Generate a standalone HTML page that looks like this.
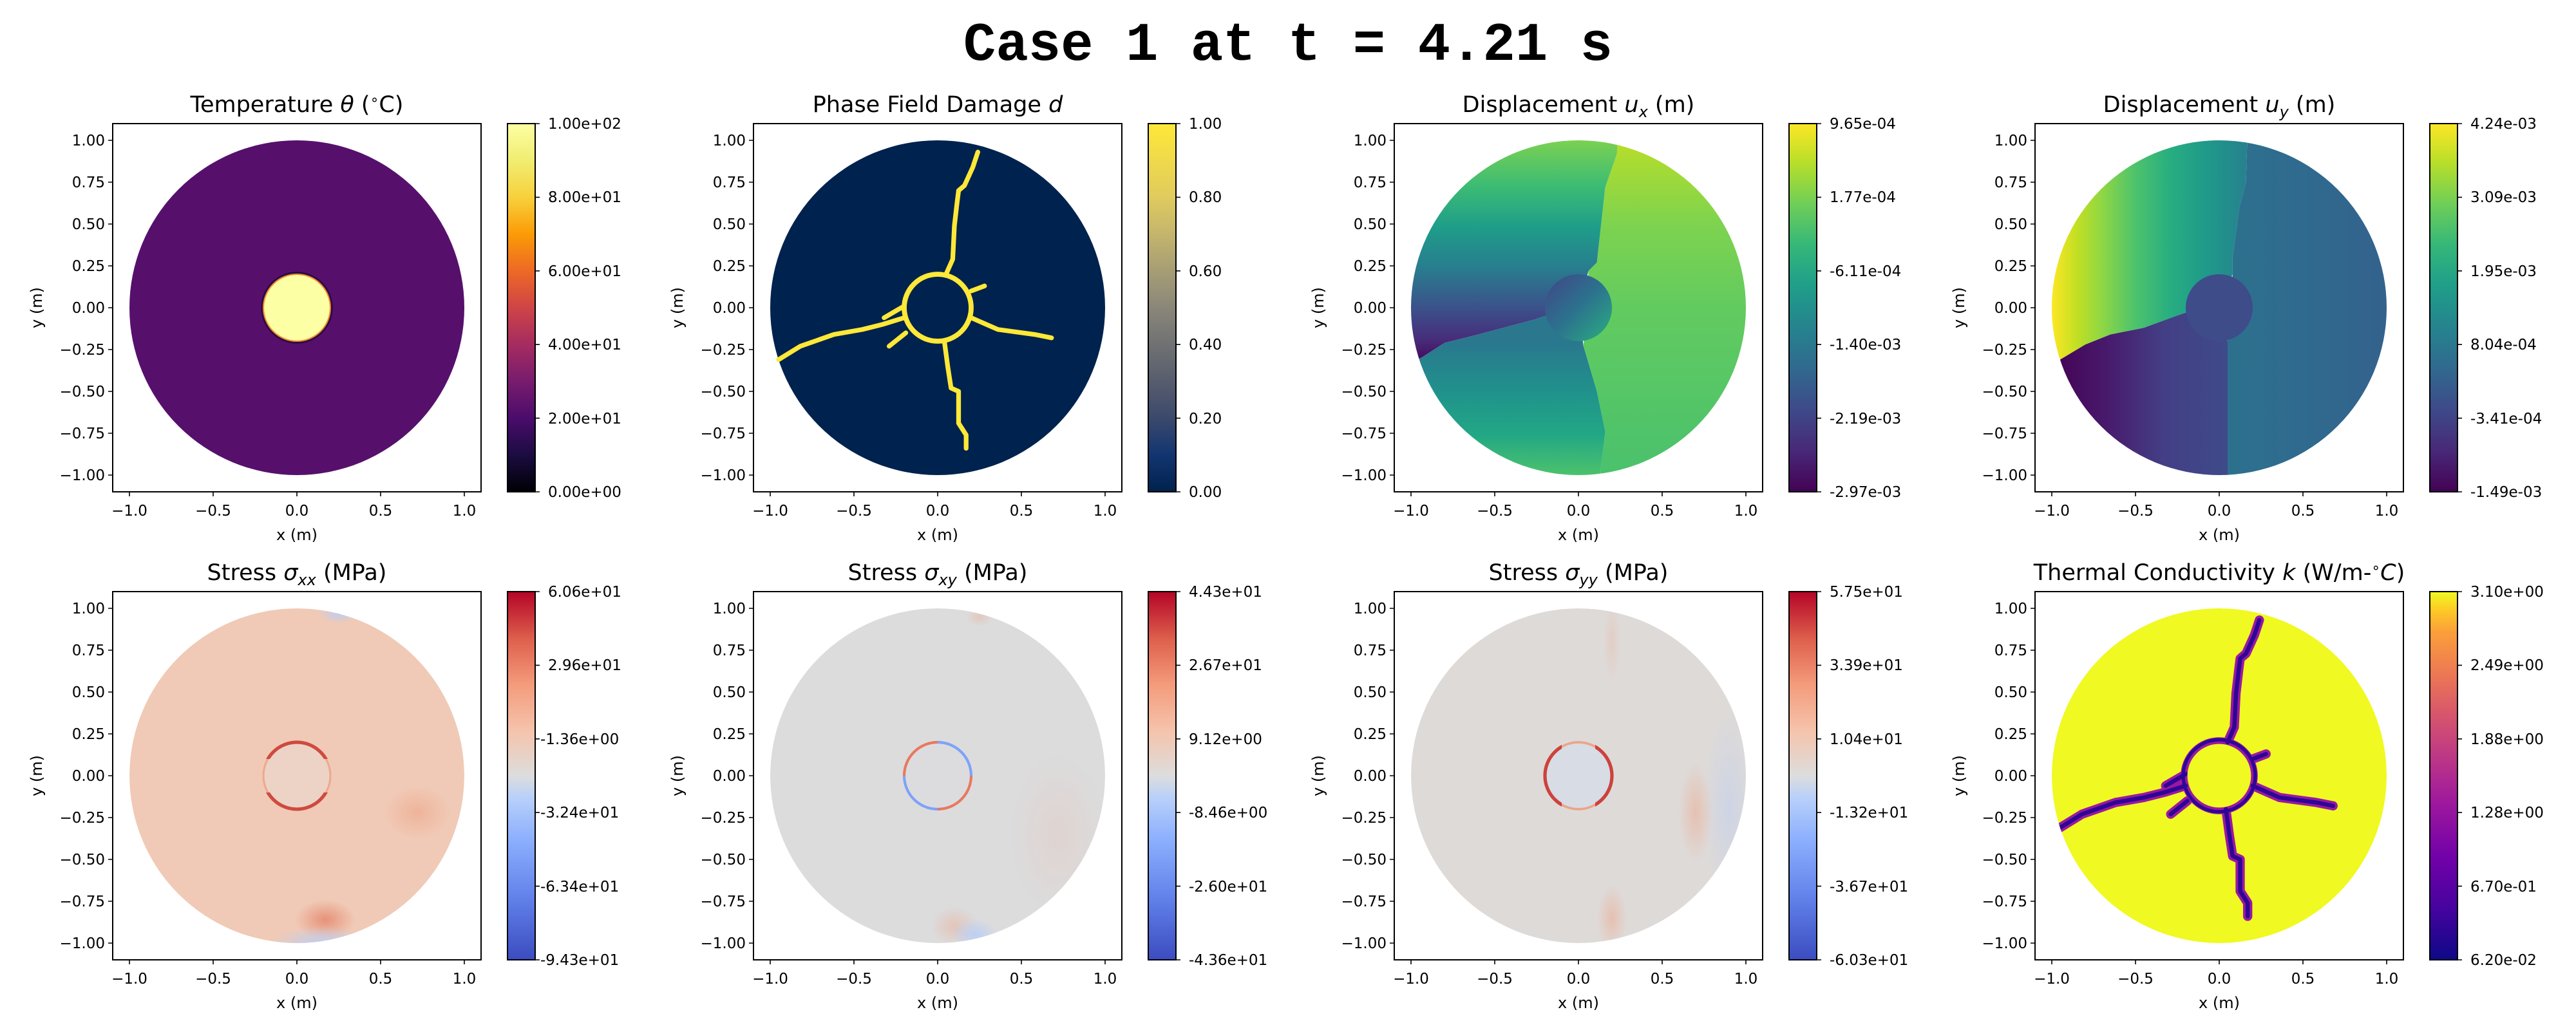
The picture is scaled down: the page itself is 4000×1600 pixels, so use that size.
<!DOCTYPE html>
<html><head><meta charset="utf-8"><style>
html,body{margin:0;padding:0;background:#fff;}
svg{display:block;}
text{font-family:"DejaVu Sans","Liberation Sans",sans-serif;fill:#000;}
.tk{font-size:23px;}
.lb{font-size:24px;}
.tt{font-size:35px;}
.cb{font-size:23px;}
</style></head><body>
<svg width="4000" height="1600" viewBox="0 0 4000 1600" xmlns="http://www.w3.org/2000/svg">
<defs>
<clipPath id="disk"><circle cx="0" cy="0" r="1"/></clipPath>
<clipPath id="ctop"><rect x="-0.4" y="0.1" width="0.8" height="0.3"/></clipPath>
<clipPath id="cbot"><rect x="-0.4" y="-0.4" width="0.8" height="0.3"/></clipPath>
<clipPath id="cleft"><rect x="-0.4" y="-0.4" width="0.3" height="0.8"/></clipPath>
<clipPath id="cright"><rect x="0.1" y="-0.4" width="0.3" height="0.8"/></clipPath>
<clipPath id="qtl"><rect x="-0.4" y="0" width="0.4" height="0.4"/></clipPath>
<clipPath id="qtr"><rect x="0" y="0" width="0.4" height="0.4"/></clipPath>
<clipPath id="qbl"><rect x="-0.4" y="-0.4" width="0.4" height="0.4"/></clipPath>
<clipPath id="qbr"><rect x="0" y="-0.4" width="0.4" height="0.4"/></clipPath>
<linearGradient id="inferno" x1="0" y1="1" x2="0" y2="0">
<stop offset="0" stop-color="#000004"/><stop offset="0.1" stop-color="#1b0c41"/><stop offset="0.2" stop-color="#4a0c6b"/><stop offset="0.3" stop-color="#781c6d"/><stop offset="0.4" stop-color="#a52c60"/><stop offset="0.5" stop-color="#cf4446"/><stop offset="0.6" stop-color="#ed6925"/><stop offset="0.7" stop-color="#fb9b06"/><stop offset="0.8" stop-color="#f7d13d"/><stop offset="0.9" stop-color="#f1ed71"/><stop offset="1" stop-color="#fcffa4"/></linearGradient>
<linearGradient id="cividis" x1="0" y1="1" x2="0" y2="0">
<stop offset="0" stop-color="#00224e"/><stop offset="0.1" stop-color="#123570"/><stop offset="0.2" stop-color="#3b496c"/><stop offset="0.3" stop-color="#575d6d"/><stop offset="0.4" stop-color="#707173"/><stop offset="0.5" stop-color="#8a8779"/><stop offset="0.6" stop-color="#a69d75"/><stop offset="0.7" stop-color="#c4b56c"/><stop offset="0.8" stop-color="#e0cb5e"/><stop offset="1" stop-color="#fee838"/></linearGradient>
<linearGradient id="viridis" x1="0" y1="1" x2="0" y2="0">
<stop offset="0" stop-color="#440154"/><stop offset="0.11" stop-color="#482878"/><stop offset="0.22" stop-color="#3e4989"/><stop offset="0.33" stop-color="#31688e"/><stop offset="0.44" stop-color="#26828e"/><stop offset="0.56" stop-color="#1f9e89"/><stop offset="0.67" stop-color="#35b779"/><stop offset="0.78" stop-color="#6ece58"/><stop offset="0.89" stop-color="#b5de2b"/><stop offset="1" stop-color="#fde725"/></linearGradient>
<linearGradient id="coolwarm" x1="0" y1="1" x2="0" y2="0">
<stop offset="0" stop-color="#3b4cc0"/><stop offset="0.17" stop-color="#6282ea"/><stop offset="0.33" stop-color="#8db0fe"/><stop offset="0.44" stop-color="#b8d0f9"/><stop offset="0.5" stop-color="#dddddd"/><stop offset="0.62" stop-color="#f5c4ac"/><stop offset="0.75" stop-color="#f49a7b"/><stop offset="0.87" stop-color="#de604d"/><stop offset="1" stop-color="#b40426"/></linearGradient>
<linearGradient id="plasma" x1="0" y1="1" x2="0" y2="0">
<stop offset="0" stop-color="#0d0887"/><stop offset="0.14" stop-color="#46039f"/><stop offset="0.28" stop-color="#7201a8"/><stop offset="0.42" stop-color="#9c179e"/><stop offset="0.55" stop-color="#bd3786"/><stop offset="0.67" stop-color="#d8576b"/><stop offset="0.78" stop-color="#ed7953"/><stop offset="0.89" stop-color="#fb9f3a"/><stop offset="0.95" stop-color="#fdca26"/><stop offset="1" stop-color="#f0f921"/></linearGradient>
<linearGradient id="uxR" gradientUnits="userSpaceOnUse" x1="0" y1="1" x2="0" y2="-1">
<stop offset="0" stop-color="#b8de29"/><stop offset="0.25" stop-color="#7ed34f"/><stop offset="0.5" stop-color="#62cb5f"/><stop offset="1" stop-color="#4ac16d"/></linearGradient>
<linearGradient id="uxLU" gradientUnits="userSpaceOnUse" x1="0" y1="1" x2="0" y2="-0.35">
<stop offset="0" stop-color="#7ad151"/><stop offset="0.2" stop-color="#3dbc74"/><stop offset="0.38" stop-color="#1f9e89"/><stop offset="0.55" stop-color="#27808e"/><stop offset="0.74" stop-color="#3b528b"/><stop offset="0.88" stop-color="#472d7b"/><stop offset="1" stop-color="#440154"/></linearGradient>
<linearGradient id="uxLL" gradientUnits="userSpaceOnUse" x1="0" y1="-0.2" x2="0" y2="-1">
<stop offset="0" stop-color="#2a778e"/><stop offset="0.38" stop-color="#20928c"/><stop offset="0.7" stop-color="#22a785"/><stop offset="1" stop-color="#4cc26c"/></linearGradient>
<linearGradient id="uxC" gradientUnits="userSpaceOnUse" x1="-0.2" y1="0.2" x2="0.2" y2="-0.2">
<stop offset="0" stop-color="#414487"/><stop offset="0.5" stop-color="#2c728e"/><stop offset="1" stop-color="#2ab07f"/></linearGradient>
<linearGradient id="uyUL" gradientUnits="userSpaceOnUse" x1="-1" y1="0" x2="0.15" y2="0">
<stop offset="0" stop-color="#fde725"/><stop offset="0.13" stop-color="#c2df23"/><stop offset="0.26" stop-color="#8fd744"/><stop offset="0.43" stop-color="#4ec36b"/><stop offset="0.61" stop-color="#28ae80"/><stop offset="0.8" stop-color="#1f9a8a"/><stop offset="1" stop-color="#26828e"/></linearGradient>
<linearGradient id="uyLL" gradientUnits="userSpaceOnUse" x1="-1" y1="0" x2="0.1" y2="0">
<stop offset="0" stop-color="#440154"/><stop offset="0.3" stop-color="#481a6c"/><stop offset="0.6" stop-color="#433e85"/><stop offset="1" stop-color="#3e4c8a"/></linearGradient>
<linearGradient id="uyR" gradientUnits="userSpaceOnUse" x1="0.1" y1="0" x2="1" y2="0">
<stop offset="0" stop-color="#2d708e"/><stop offset="1" stop-color="#33628d"/></linearGradient>
<radialGradient id="spotR" cx="0.5" cy="0.5" r="0.5"><stop offset="0" stop-color="#e27a60" stop-opacity="0.7"/><stop offset="1" stop-color="#e27a60" stop-opacity="0"/></radialGradient>
<radialGradient id="spotR2" cx="0.5" cy="0.5" r="0.5"><stop offset="0" stop-color="#eea487" stop-opacity="0.6"/><stop offset="1" stop-color="#eea487" stop-opacity="0"/></radialGradient>
<radialGradient id="spotB" cx="0.5" cy="0.5" r="0.5"><stop offset="0" stop-color="#b9cdf5" stop-opacity="0.9"/><stop offset="1" stop-color="#b9cdf5" stop-opacity="0"/></radialGradient>
<path id="crk" d="M0.05,0.2 L0.09,0.29 L0.10,0.49 L0.115,0.62 L0.125,0.70 L0.16,0.73 L0.21,0.84 L0.24,0.93 M0.04,-0.2 L0.06,-0.35 L0.08,-0.48 L0.125,-0.50 L0.125,-0.69 L0.17,-0.76 L0.17,-0.84 M-0.2,-0.06 L-0.33,-0.10 L-0.45,-0.13 L-0.62,-0.16 L-0.82,-0.23 L-0.95,-0.31 M-0.2,0.01 L-0.32,-0.06 M-0.19,-0.15 L-0.29,-0.23 M0.2,-0.06 L0.36,-0.13 L0.58,-0.16 L0.68,-0.18 M0.2,0.10 L0.28,0.13" fill="none" stroke-linejoin="round" stroke-linecap="round"/>
<path id="tks" d="M0,26h-7M0,91h-7M0,156h-7M0,221h-7M0,286h-7M0,351h-7M0,416h-7M0,481h-7M0,546h-7M26,572v7M156,572v7M286,572v7M416,572v7M546,572v7M656,0h7M656,114.4h7M656,228.8h7M656,343.2h7M656,457.6h7M656,572h7" stroke="#000" stroke-width="1.6" fill="none"/>
</defs>

<text x="2000" y="93" text-anchor="middle" style="font-family:'Liberation Mono','DejaVu Sans Mono',monospace;font-weight:bold;font-size:84px;">Case 1 at t = 4.21 s</text>

<g transform="translate(175,192)">
<g transform="translate(286,286) scale(260,-260)">
<circle r="1" fill="#56106c"/>
<circle r="0.215" fill="#2a0b4a"/>
<circle r="0.2" fill="#fcffa4" stroke="#f38a2a" stroke-width="0.008"/>
</g>
<rect x="0" y="0" width="572" height="572" fill="none" stroke="#000" stroke-width="2"/>
<rect x="613" y="0" width="43" height="572" fill="url(#inferno)" stroke="#000" stroke-width="2"/>
<use href="#tks"/>
<g class="tk" text-anchor="end"><text x="-12" y="34">1.00</text><text x="-12" y="99">0.75</text><text x="-12" y="164">0.50</text><text x="-12" y="229">0.25</text><text x="-12" y="294">0.00</text><text x="-12" y="359">−0.25</text><text x="-12" y="424">−0.50</text><text x="-12" y="489">−0.75</text><text x="-12" y="554">−1.00</text></g>
<g class="tk" text-anchor="middle"><text x="26" y="609">−1.0</text><text x="156" y="609">−0.5</text><text x="286" y="609">0.0</text><text x="416" y="609">0.5</text><text x="546" y="609">1.0</text></g>
<text class="lb" x="286" y="647" text-anchor="middle">x (m)</text>
<text class="lb" transform="translate(-110,286) rotate(-90)" text-anchor="middle">y (m)</text>
<text class="tt" x="286" y="-18" text-anchor="middle">Temperature <tspan font-style="italic">θ</tspan> (<tspan baseline-shift="super" font-size="22">∘</tspan>C)</text>
<g class="cb"><text x="676" y="8">1.00e+02</text><text x="676" y="122">8.00e+01</text><text x="676" y="237">6.00e+01</text><text x="676" y="351">4.00e+01</text><text x="676" y="466">2.00e+01</text><text x="676" y="580">0.00e+00</text></g>
</g>

<g transform="translate(1170,192)">
<g transform="translate(286,286) scale(260,-260)">
<circle r="1" fill="#00224e"/>
<use href="#crk" stroke="#fee838" stroke-width="0.028"/>
<circle r="0.2" fill="none" stroke="#fee838" stroke-width="0.03"/>
</g>
<rect x="0" y="0" width="572" height="572" fill="none" stroke="#000" stroke-width="2"/>
<rect x="613" y="0" width="43" height="572" fill="url(#cividis)" stroke="#000" stroke-width="2"/>
<use href="#tks"/>
<g class="tk" text-anchor="end"><text x="-12" y="34">1.00</text><text x="-12" y="99">0.75</text><text x="-12" y="164">0.50</text><text x="-12" y="229">0.25</text><text x="-12" y="294">0.00</text><text x="-12" y="359">−0.25</text><text x="-12" y="424">−0.50</text><text x="-12" y="489">−0.75</text><text x="-12" y="554">−1.00</text></g>
<g class="tk" text-anchor="middle"><text x="26" y="609">−1.0</text><text x="156" y="609">−0.5</text><text x="286" y="609">0.0</text><text x="416" y="609">0.5</text><text x="546" y="609">1.0</text></g>
<text class="lb" x="286" y="647" text-anchor="middle">x (m)</text>
<text class="lb" transform="translate(-110,286) rotate(-90)" text-anchor="middle">y (m)</text>
<text class="tt" x="286" y="-18" text-anchor="middle">Phase Field Damage <tspan font-style="italic">d</tspan></text>
<g class="cb"><text x="676" y="8">1.00</text><text x="676" y="122">0.80</text><text x="676" y="237">0.60</text><text x="676" y="351">0.40</text><text x="676" y="466">0.20</text><text x="676" y="580">0.00</text></g>
</g>

<g transform="translate(2165,192)">
<g transform="translate(286,286) scale(260,-260)">
<g clip-path="url(#disk)">
<polygon fill="url(#uxR)" points="0.23,1.1 1.1,1.1 1.1,-1.1 0.13,-1.1 0.13,-1.0 0.16,-0.74 0.11,-0.50 0.03,-0.23 0.06,0.22 0.11,0.27 0.16,0.72 0.23,0.92"/>
<polygon fill="url(#uxLU)" points="-1.1,1.1 0.235,1.1 0.23,0.92 0.16,0.72 0.11,0.27 0.06,0.22 0,0 -0.2,-0.05 -0.26,-0.07 -0.45,-0.12 -0.60,-0.16 -0.8,-0.21 -0.94,-0.30 -1.1,-0.36"/>
<polygon fill="url(#uxLL)" points="-1.1,-0.36 -0.94,-0.30 -0.8,-0.21 -0.60,-0.16 -0.45,-0.12 -0.26,-0.07 -0.2,-0.05 0,0 0.03,-0.23 0.11,-0.50 0.16,-0.74 0.13,-1.0 0.13,-1.1 -1.1,-1.1"/>
<circle r="0.2" fill="url(#uxC)"/>
</g>
</g>
<rect x="0" y="0" width="572" height="572" fill="none" stroke="#000" stroke-width="2"/>
<rect x="613" y="0" width="43" height="572" fill="url(#viridis)" stroke="#000" stroke-width="2"/>
<use href="#tks"/>
<g class="tk" text-anchor="end"><text x="-12" y="34">1.00</text><text x="-12" y="99">0.75</text><text x="-12" y="164">0.50</text><text x="-12" y="229">0.25</text><text x="-12" y="294">0.00</text><text x="-12" y="359">−0.25</text><text x="-12" y="424">−0.50</text><text x="-12" y="489">−0.75</text><text x="-12" y="554">−1.00</text></g>
<g class="tk" text-anchor="middle"><text x="26" y="609">−1.0</text><text x="156" y="609">−0.5</text><text x="286" y="609">0.0</text><text x="416" y="609">0.5</text><text x="546" y="609">1.0</text></g>
<text class="lb" x="286" y="647" text-anchor="middle">x (m)</text>
<text class="lb" transform="translate(-110,286) rotate(-90)" text-anchor="middle">y (m)</text>
<text class="tt" x="286" y="-18" text-anchor="middle">Displacement <tspan font-style="italic">u</tspan><tspan font-style="italic" font-size="24" dy="8">x</tspan><tspan dy="-8"> (m)</tspan></text>
<g class="cb"><text x="676" y="8">9.65e-04</text><text x="676" y="122">1.77e-04</text><text x="676" y="237">-6.11e-04</text><text x="676" y="351">-1.40e-03</text><text x="676" y="466">-2.19e-03</text><text x="676" y="580">-2.97e-03</text></g>
</g>

<g transform="translate(3160,192)">
<g transform="translate(286,286) scale(260,-260)">
<g clip-path="url(#disk)">
<polygon fill="url(#uyR)" points="0.17,1.1 1.1,1.1 1.1,-1.1 0.05,-1.1 0.05,-0.2 0.08,0.2 0.08,0.3 0.12,0.6 0.16,0.75"/>
<polygon fill="url(#uyUL)" points="-1.1,1.1 0.17,1.1 0.16,0.75 0.12,0.6 0.08,0.3 0.08,0.2 0,0 -0.2,-0.03 -0.26,-0.05 -0.45,-0.12 -0.65,-0.16 -0.8,-0.22 -0.95,-0.31 -1.1,-0.37"/>
<polygon fill="url(#uyLL)" points="-1.1,-0.37 -0.95,-0.31 -0.8,-0.22 -0.65,-0.16 -0.45,-0.12 -0.26,-0.05 -0.2,-0.03 0,0 0.05,-0.2 0.05,-1.1 -1.1,-1.1"/>
<circle r="0.2" fill="#3e4c8a"/>
</g>
</g>
<rect x="0" y="0" width="572" height="572" fill="none" stroke="#000" stroke-width="2"/>
<rect x="613" y="0" width="43" height="572" fill="url(#viridis)" stroke="#000" stroke-width="2"/>
<use href="#tks"/>
<g class="tk" text-anchor="end"><text x="-12" y="34">1.00</text><text x="-12" y="99">0.75</text><text x="-12" y="164">0.50</text><text x="-12" y="229">0.25</text><text x="-12" y="294">0.00</text><text x="-12" y="359">−0.25</text><text x="-12" y="424">−0.50</text><text x="-12" y="489">−0.75</text><text x="-12" y="554">−1.00</text></g>
<g class="tk" text-anchor="middle"><text x="26" y="609">−1.0</text><text x="156" y="609">−0.5</text><text x="286" y="609">0.0</text><text x="416" y="609">0.5</text><text x="546" y="609">1.0</text></g>
<text class="lb" x="286" y="647" text-anchor="middle">x (m)</text>
<text class="lb" transform="translate(-110,286) rotate(-90)" text-anchor="middle">y (m)</text>
<text class="tt" x="286" y="-18" text-anchor="middle">Displacement <tspan font-style="italic">u</tspan><tspan font-style="italic" font-size="24" dy="8">y</tspan><tspan dy="-8"> (m)</tspan></text>
<g class="cb"><text x="676" y="8">4.24e-03</text><text x="676" y="122">3.09e-03</text><text x="676" y="237">1.95e-03</text><text x="676" y="351">8.04e-04</text><text x="676" y="466">-3.41e-04</text><text x="676" y="580">-1.49e-03</text></g>
</g>

<g transform="translate(175,919)">
<g transform="translate(286,286) scale(260,-260)">
<g clip-path="url(#disk)">
<circle r="1" fill="#f0cab6"/>
<ellipse cx="0.72" cy="-0.22" rx="0.2" ry="0.16" fill="url(#spotR2)"/>
<ellipse cx="0.17" cy="-0.86" rx="0.18" ry="0.12" fill="url(#spotR)"/>
<ellipse cx="0.15" cy="-1.0" rx="0.3" ry="0.1" fill="url(#spotB)"/>
<ellipse cx="0.25" cy="0.97" rx="0.12" ry="0.06" fill="url(#spotB)"/>
<circle r="0.2" fill="#ecd3c6" stroke="#eea98e" stroke-width="0.012"/>
<circle r="0.2" fill="none" stroke="#cf4a3f" stroke-width="0.02" clip-path="url(#ctop)"/>
<circle r="0.2" fill="none" stroke="#cf4a3f" stroke-width="0.02" clip-path="url(#cbot)"/>
</g>
</g>
<rect x="0" y="0" width="572" height="572" fill="none" stroke="#000" stroke-width="2"/>
<rect x="613" y="0" width="43" height="572" fill="url(#coolwarm)" stroke="#000" stroke-width="2"/>
<use href="#tks"/>
<g class="tk" text-anchor="end"><text x="-12" y="34">1.00</text><text x="-12" y="99">0.75</text><text x="-12" y="164">0.50</text><text x="-12" y="229">0.25</text><text x="-12" y="294">0.00</text><text x="-12" y="359">−0.25</text><text x="-12" y="424">−0.50</text><text x="-12" y="489">−0.75</text><text x="-12" y="554">−1.00</text></g>
<g class="tk" text-anchor="middle"><text x="26" y="609">−1.0</text><text x="156" y="609">−0.5</text><text x="286" y="609">0.0</text><text x="416" y="609">0.5</text><text x="546" y="609">1.0</text></g>
<text class="lb" x="286" y="647" text-anchor="middle">x (m)</text>
<text class="lb" transform="translate(-110,286) rotate(-90)" text-anchor="middle">y (m)</text>
<text class="tt" x="286" y="-18" text-anchor="middle">Stress <tspan font-style="italic">σ</tspan><tspan font-style="italic" font-size="24" dy="8">xx</tspan><tspan dy="-8"> (MPa)</tspan></text>
<g class="cb"><text x="676" y="8">6.06e+01</text><text x="676" y="122">2.96e+01</text><text x="664" y="237">-1.36e+00</text><text x="664" y="351">-3.24e+01</text><text x="664" y="466">-6.34e+01</text><text x="664" y="580">-9.43e+01</text></g>
</g>

<g transform="translate(1170,919)">
<g transform="translate(286,286) scale(260,-260)">
<g clip-path="url(#disk)">
<circle r="1" fill="#dcdcdd"/>
<ellipse cx="0.72" cy="-0.35" rx="0.3" ry="0.5" fill="url(#spotR2)" opacity="0.25"/>
<ellipse cx="0.1" cy="-0.9" rx="0.14" ry="0.12" fill="url(#spotR2)" opacity="0.7"/>
<ellipse cx="0.22" cy="-0.95" rx="0.14" ry="0.1" fill="url(#spotB)"/>
<ellipse cx="0.25" cy="0.95" rx="0.08" ry="0.06" fill="url(#spotR2)" opacity="0.6"/>
<circle r="0.2" fill="#dcdcde"/>
<circle r="0.2" fill="none" stroke="#e8795f" stroke-width="0.016" clip-path="url(#qtl)"/>
<circle r="0.2" fill="none" stroke="#7ea2f8" stroke-width="0.016" clip-path="url(#qtr)"/>
<circle r="0.2" fill="none" stroke="#7ea2f8" stroke-width="0.016" clip-path="url(#qbl)"/>
<circle r="0.2" fill="none" stroke="#e8795f" stroke-width="0.016" clip-path="url(#qbr)"/>
</g>
</g>
<rect x="0" y="0" width="572" height="572" fill="none" stroke="#000" stroke-width="2"/>
<rect x="613" y="0" width="43" height="572" fill="url(#coolwarm)" stroke="#000" stroke-width="2"/>
<use href="#tks"/>
<g class="tk" text-anchor="end"><text x="-12" y="34">1.00</text><text x="-12" y="99">0.75</text><text x="-12" y="164">0.50</text><text x="-12" y="229">0.25</text><text x="-12" y="294">0.00</text><text x="-12" y="359">−0.25</text><text x="-12" y="424">−0.50</text><text x="-12" y="489">−0.75</text><text x="-12" y="554">−1.00</text></g>
<g class="tk" text-anchor="middle"><text x="26" y="609">−1.0</text><text x="156" y="609">−0.5</text><text x="286" y="609">0.0</text><text x="416" y="609">0.5</text><text x="546" y="609">1.0</text></g>
<text class="lb" x="286" y="647" text-anchor="middle">x (m)</text>
<text class="lb" transform="translate(-110,286) rotate(-90)" text-anchor="middle">y (m)</text>
<text class="tt" x="286" y="-18" text-anchor="middle">Stress <tspan font-style="italic">σ</tspan><tspan font-style="italic" font-size="24" dy="8">xy</tspan><tspan dy="-8"> (MPa)</tspan></text>
<g class="cb"><text x="676" y="8">4.43e+01</text><text x="676" y="122">2.67e+01</text><text x="676" y="237">9.12e+00</text><text x="676" y="351">-8.46e+00</text><text x="676" y="466">-2.60e+01</text><text x="676" y="580">-4.36e+01</text></g>
</g>

<g transform="translate(2165,919)">
<g transform="translate(286,286) scale(260,-260)">
<g clip-path="url(#disk)">
<circle r="1" fill="#dedad8"/>
<ellipse cx="0.9" cy="-0.2" rx="0.15" ry="0.6" fill="url(#spotB)" opacity="0.5"/>
<ellipse cx="0.7" cy="-0.22" rx="0.1" ry="0.3" fill="url(#spotR2)" opacity="0.8"/>
<ellipse cx="0.2" cy="-0.85" rx="0.09" ry="0.2" fill="url(#spotR2)" opacity="0.8"/>
<ellipse cx="0.2" cy="0.8" rx="0.05" ry="0.25" fill="url(#spotR2)" opacity="0.4"/>
<circle r="0.2" fill="#d7dce5"/>
<circle r="0.2" fill="none" stroke="#eda488" stroke-width="0.014"/>
<circle r="0.2" fill="none" stroke="#cc423a" stroke-width="0.02" clip-path="url(#cleft)"/>
<circle r="0.2" fill="none" stroke="#cc423a" stroke-width="0.02" clip-path="url(#cright)"/>
</g>
</g>
<rect x="0" y="0" width="572" height="572" fill="none" stroke="#000" stroke-width="2"/>
<rect x="613" y="0" width="43" height="572" fill="url(#coolwarm)" stroke="#000" stroke-width="2"/>
<use href="#tks"/>
<g class="tk" text-anchor="end"><text x="-12" y="34">1.00</text><text x="-12" y="99">0.75</text><text x="-12" y="164">0.50</text><text x="-12" y="229">0.25</text><text x="-12" y="294">0.00</text><text x="-12" y="359">−0.25</text><text x="-12" y="424">−0.50</text><text x="-12" y="489">−0.75</text><text x="-12" y="554">−1.00</text></g>
<g class="tk" text-anchor="middle"><text x="26" y="609">−1.0</text><text x="156" y="609">−0.5</text><text x="286" y="609">0.0</text><text x="416" y="609">0.5</text><text x="546" y="609">1.0</text></g>
<text class="lb" x="286" y="647" text-anchor="middle">x (m)</text>
<text class="lb" transform="translate(-110,286) rotate(-90)" text-anchor="middle">y (m)</text>
<text class="tt" x="286" y="-18" text-anchor="middle">Stress <tspan font-style="italic">σ</tspan><tspan font-style="italic" font-size="24" dy="8">yy</tspan><tspan dy="-8"> (MPa)</tspan></text>
<g class="cb"><text x="676" y="8">5.75e+01</text><text x="676" y="122">3.39e+01</text><text x="676" y="237">1.04e+01</text><text x="676" y="351">-1.32e+01</text><text x="676" y="466">-3.67e+01</text><text x="676" y="580">-6.03e+01</text></g>
</g>

<g transform="translate(3160,919)">
<g transform="translate(286,286) scale(260,-260)">
<g clip-path="url(#disk)">
<circle r="1" fill="#f0f921"/>
<use href="#crk" stroke="#9a18a0" stroke-width="0.055"/>
<circle r="0.2" fill="none" stroke="#9a18a0" stroke-width="0.06"/>
<use href="#crk" stroke="#2e0595" stroke-width="0.025"/>
<circle r="0.215" fill="none" stroke="#2e0595" stroke-width="0.02"/>
<circle r="0.19" fill="#f0f921"/>
</g>
</g>
<rect x="0" y="0" width="572" height="572" fill="none" stroke="#000" stroke-width="2"/>
<rect x="613" y="0" width="43" height="572" fill="url(#plasma)" stroke="#000" stroke-width="2"/>
<use href="#tks"/>
<g class="tk" text-anchor="end"><text x="-12" y="34">1.00</text><text x="-12" y="99">0.75</text><text x="-12" y="164">0.50</text><text x="-12" y="229">0.25</text><text x="-12" y="294">0.00</text><text x="-12" y="359">−0.25</text><text x="-12" y="424">−0.50</text><text x="-12" y="489">−0.75</text><text x="-12" y="554">−1.00</text></g>
<g class="tk" text-anchor="middle"><text x="26" y="609">−1.0</text><text x="156" y="609">−0.5</text><text x="286" y="609">0.0</text><text x="416" y="609">0.5</text><text x="546" y="609">1.0</text></g>
<text class="lb" x="286" y="647" text-anchor="middle">x (m)</text>
<text class="lb" transform="translate(-110,286) rotate(-90)" text-anchor="middle">y (m)</text>
<text class="tt" x="286" y="-18" text-anchor="middle">Thermal Conductivity <tspan font-style="italic">k</tspan> (W/m-<tspan baseline-shift="super" font-size="22">∘</tspan><tspan font-style="italic">C</tspan>)</text>
<g class="cb"><text x="676" y="8">3.10e+00</text><text x="676" y="122">2.49e+00</text><text x="676" y="237">1.88e+00</text><text x="676" y="351">1.28e+00</text><text x="676" y="466">6.70e-01</text><text x="676" y="580">6.20e-02</text></g>
</g>
</svg>
</body></html>
